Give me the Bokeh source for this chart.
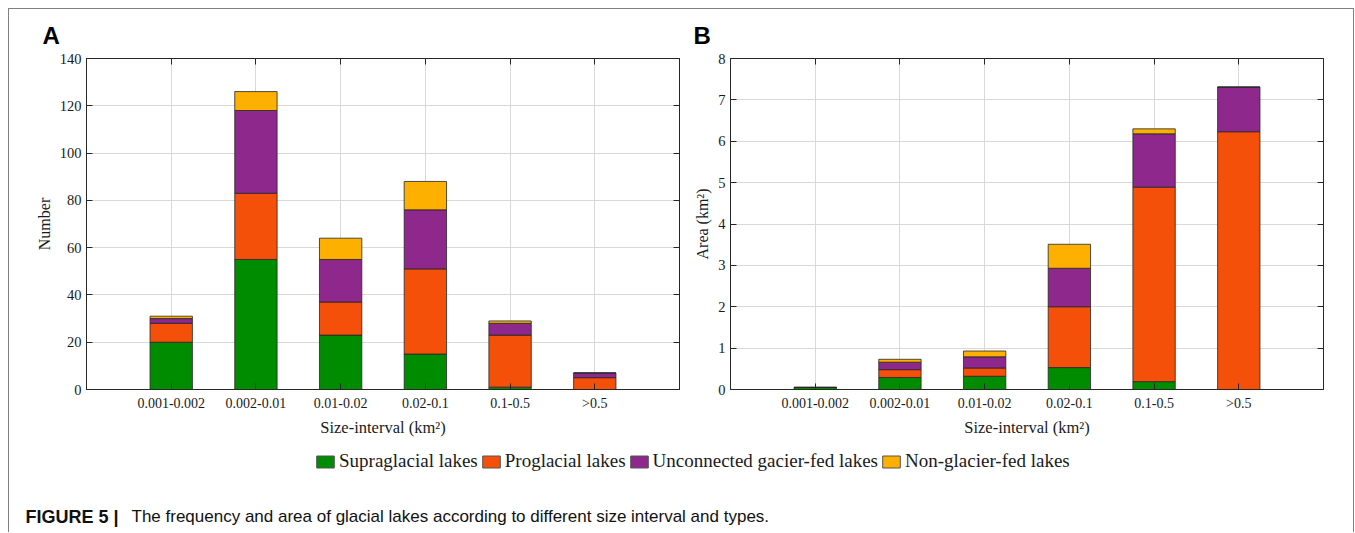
from bokeh.plotting import figure
from bokeh.models import (Range1d, FixedTicker, SingleIntervalTicker, LinearAxis,
                          Legend, LegendItem, Label, ColumnDataSource)
from bokeh.layouts import column, row
from bokeh.embed import file_html
from bokeh.resources import INLINE

# ---------------- data ----------------
categories = ["0.001-0.002", "0.002-0.01", "0.01-0.02", "0.02-0.1", "0.1-0.5", ">0.5"]
series_names = ["Supraglacial lakes", "Proglacial lakes",
                "Unconnected gacier-fed lakes", "Non-glacier-fed lakes"]
series_colors = ["#008c00", "#f5500a", "#8e288c", "#fdb000"]

# Panel A: number of lakes
number_supra = [20, 55, 23, 15, 1, 0]
number_pro = [8, 28, 14, 36, 22, 5]
number_unconn = [2, 35, 18, 25, 5, 2]
number_nonglac = [1, 8, 9, 12, 1, 0]

# Panel B: area (km2)
area_supra = [0.05, 0.29, 0.32, 0.53, 0.19, 0.0]
area_pro = [0.0, 0.19, 0.20, 1.47, 4.70, 6.23]
area_unconn = [0.0, 0.18, 0.27, 0.93, 1.29, 1.08]
area_nonglac = [0.0, 0.07, 0.14, 0.58, 0.12, 0.0]

ytick_step_a = 20
ytick_step_b = 1
ymax_a = 140
ymax_b = 8

SERIF = "Liberation Serif"
SANS = "Liberation Sans"
TXT = "#1a1a1a"
AX = "#262626"
GRID = "#d9d9d9"

W = 1344


def style_axis(ax, ticker, show_labels=True):
    ax.ticker = ticker
    ax.major_tick_in = 6
    ax.major_tick_out = 0
    ax.minor_tick_in = 0
    ax.minor_tick_out = 0
    ax.axis_line_color = AX
    ax.major_tick_line_color = AX
    ax.major_label_text_font = SERIF
    ax.major_label_text_color = TXT
    ax.axis_label_text_font = SERIF
    ax.axis_label_text_color = TXT
    ax.axis_label_text_font_style = "normal"
    if not show_labels:
        ax.major_label_text_font_size = "1px"
        ax.major_label_text_color = None
        ax.major_label_standoff = 0
        ax.axis_label = None


def make_panel(stacks, ymax, ystep, ylabel, width, left, right):
    xs = list(range(1, len(categories) + 1))
    p = figure(width=width, height=390,
               x_range=Range1d(0, len(categories) + 1), y_range=Range1d(0, ymax),
               output_backend="svg", toolbar_location=None,
               min_border_left=left, min_border_right=right,
               min_border_top=8, min_border_bottom=51)
    data = {"x": xs}
    for name, vals in zip(series_names, stacks):
        data[name] = vals
    src = ColumnDataSource(data)
    p.vbar_stack(series_names, x="x", width=0.5, source=src,
                 fill_color=series_colors, line_color=AX, line_width=0.8)

    xt = FixedTicker(ticks=xs)
    yt = SingleIntervalTicker(interval=ystep, num_minor_ticks=0)

    xa = p.xaxis[0]
    style_axis(xa, xt)
    xa.major_label_overrides = {x: c for x, c in zip(xs, categories)}
    xa.major_label_text_font_size = "14px"
    xa.major_label_standoff = 6
    xa.axis_label = "Size-interval (km²)"
    xa.axis_label_text_font_size = "16.5px"
    xa.axis_label_standoff = 4

    ya = p.yaxis[0]
    style_axis(ya, yt)
    ya.major_label_text_font_size = "14.5px"
    ya.major_label_standoff = 5
    ya.axis_label = ylabel
    ya.axis_label_text_font_size = "16px"
    ya.axis_label_standoff = 4

    top_ax = LinearAxis()
    style_axis(top_ax, FixedTicker(ticks=xs), show_labels=False)
    p.add_layout(top_ax, "above")
    right_ax = LinearAxis()
    style_axis(right_ax, SingleIntervalTicker(interval=ystep, num_minor_ticks=0), show_labels=False)
    p.add_layout(right_ax, "right")

    p.xgrid.ticker = FixedTicker(ticks=xs)
    p.ygrid.ticker = SingleIntervalTicker(interval=ystep, num_minor_ticks=0)
    p.grid.grid_line_color = GRID
    p.grid.grid_line_width = 1
    p.outline_line_color = AX
    p.outline_line_width = 1
    return p


pA = make_panel([number_supra, number_pro, number_unconn, number_nonglac],
                ymax_a, ytick_step_a, "Number", 679, 77, 9)
pB = make_panel([area_supra, area_pro, area_unconn, area_nonglac],
                ymax_b, ytick_step_b, "Area (km²)", 665, 42, 30)

# ---------------- top strip with panel letters ----------------
TOP_H = 41
top = figure(width=W, height=TOP_H, x_range=Range1d(0, W), y_range=Range1d(0, TOP_H),
             x_axis_type=None, y_axis_type=None, output_backend="svg",
             toolbar_location=None, min_border=0, outline_line_color=None)
for letter, lx in (("A", 33), ("B", 684)):
    top.add_layout(Label(x=lx, y=15, text=letter, text_font=SANS, text_font_size="24px",
                         text_font_style="bold", text_color="#000000",
                         text_baseline="middle"))

# ---------------- legend strip ----------------
lf = figure(width=W, height=45, x_range=Range1d(0, 1), y_range=Range1d(0, 1),
            x_axis_type=None, y_axis_type=None, output_backend="svg",
            toolbar_location=None, min_border=0, outline_line_color=None)
items = []
for name, c in zip(series_names, series_colors):
    # placeholder bar outside the visible range: only its legend swatch is shown
    r = lf.vbar(x=[5], top=[5], bottom=[4], width=0.5, fill_color=c,
                line_color="#555555", line_width=1)
    items.append(LegendItem(label=name, renderers=[r]))
legend = Legend(items=items, orientation="horizontal", location=(305, 13),
                label_text_font=SERIF, label_text_font_size="19px", label_text_color=TXT,
                glyph_width=22, glyph_height=15, label_standoff=3, spacing=2,
                padding=0, margin=0, border_line_color=None, background_fill_alpha=0)
lf.add_layout(legend, "center")

# ---------------- caption strip ----------------
CAP_H = 47
cap = figure(width=W, height=CAP_H, x_range=Range1d(0, W), y_range=Range1d(0, CAP_H),
             x_axis_type=None, y_axis_type=None, output_backend="svg",
             toolbar_location=None, min_border=0, outline_line_color=None)
cap.add_layout(Label(x=16, y=16, text="FIGURE 5 |", text_font=SANS, text_font_size="18px",
                     text_font_style="bold", text_color="#111111", text_baseline="middle"))
cap.add_layout(Label(x=122, y=16,
                     text="The frequency and area of glacial lakes according to different size interval and types.",
                     text_font=SANS, text_font_size="17px", text_color="#111111",
                     text_baseline="middle"))

layout = column(top, row(pA, pB), lf, cap, margin=(8, 0, 0, 8),
                styles={"border-top": "1px solid #808080",
                        "border-left": "1px solid #808080",
                        "border-right": "1px solid #808080"})

open("out.html", "w").write(file_html(layout, INLINE))
